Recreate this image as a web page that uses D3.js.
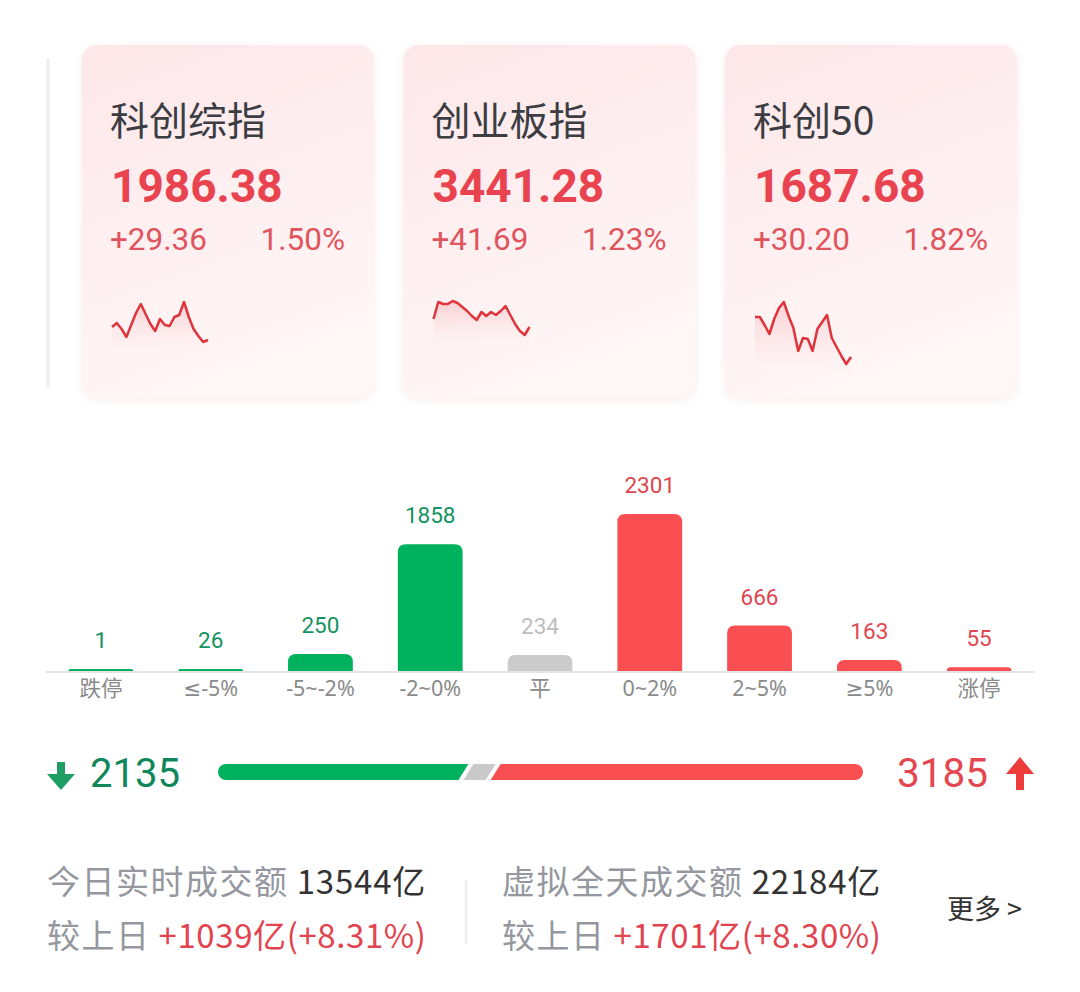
<!DOCTYPE html>
<html><head><meta charset="utf-8">
<script src="https://cdn.jsdelivr.net/npm/d3@7"></script>
<style>
html,body{margin:0;padding:0;background:#fff;}
svg{display:block;}
</style></head>
<body>
<script>
// ---------- DATA ----------
const indexNames = ["科创综指", "创业板指", "科创50"];
const indexValues = ["1986.38", "3441.28", "1687.68"];
const indexChanges = ["+29.36", "+41.69", "+30.20"];
const indexPercents = ["1.50%", "1.23%", "1.82%"];
// intraday sparkline levels (relative units above the session low)
const spark1 = [15,19,13,5,17,29,38,28,18,11,23,17,16,25,27,40,25,13,6,0,2];
const spark2 = [16,33,31,31,34,32,28,24,19,15,23,19,23,20,24,29,20,11,4,0,8];
const spark3 = [47,47,39,30,45,56,62,48,36,13,26,25,13,35,42,49,26,17,8,0,7];

const bucketLabels = ["跌停", "≤-5%", "-5~-2%", "-2~0%", "平", "0~2%", "2~5%", "≥5%", "涨停"];
const bucketCounts = [1, 26, 250, 1858, 234, 2301, 666, 163, 55];
const bucketSide = ["down","down","down","down","flat","up","up","up","up"];

const downTotal = 2135, flatTotal = 234, upTotal = 3185;

const turnoverLabels = ["今日实时成交额", "虚拟全天成交额"];
const turnoverValues = ["13544亿", "22184亿"];
const turnoverDiffs = ["+1039亿(+8.31%)", "+1701亿(+8.30%)"];
const compareLabel = "较上日";
const moreLabel = "更多 >";

// ---------- STYLE ----------
const W = 1080, H = 992;
const CJK = "'Noto Sans CJK SC','Noto Sans',sans-serif";
const NUM = "Roboto,'Noto Sans CJK SC',sans-serif";
const LAB = "'Noto Sans','DejaVu Sans','Noto Sans CJK SC',sans-serif";
const GREEN = "#00b15d", GREEN_T = "#13935f";
const RED = "#f94f52", RED_T = "#e0464f";
const GRAY = "#cbcbcb", GRAY_T = "#bdbdbd";

const svg = d3.select("body").append("svg").attr("width", W).attr("height", H);
const defs = svg.append("defs");

const cg = defs.append("linearGradient").attr("id","cardGrad").attr("x1",0).attr("y1",0).attr("x2",0.3).attr("y2",1);
cg.append("stop").attr("offset","0%").attr("stop-color","#fde7e9");
cg.append("stop").attr("offset","100%").attr("stop-color","#fff6f6");
const ag = defs.append("linearGradient").attr("id","areaGrad").attr("x1",0).attr("y1",0).attr("x2",0).attr("y2",1);
ag.append("stop").attr("offset","0%").attr("stop-color","#f3b3b8").attr("stop-opacity",0.55);
ag.append("stop").attr("offset","100%").attr("stop-color","#fbe0e2").attr("stop-opacity",0);
const sh = defs.append("filter").attr("id","shadow").attr("x","-10%").attr("y","-10%").attr("width","120%").attr("height","120%");
sh.append("feDropShadow").attr("dx",0).attr("dy",2).attr("stdDeviation",4).attr("flood-color","#e8c8ca").attr("flood-opacity",0.35);

// left partial card edge
svg.append("line").attr("x1",48).attr("x2",48).attr("y1",58).attr("y2",388)
  .attr("stroke","#f1eced").attr("stroke-width",3);

// ---------- INDEX CARDS ----------
const sparks = [spark1, spark2, spark3];
const sparkBox = [[302, 342], [301, 335], [302, 364]];
indexNames.forEach((name, i) => {
  const x0 = 82 + i * 321.5;
  const g = svg.append("g").attr("transform", `translate(${x0},0)`);
  g.append("rect").attr("x",0).attr("y",45).attr("width",292).attr("height",353).attr("rx",15)
    .attr("fill","url(#cardGrad)").attr("filter","url(#shadow)");
  g.append("text").attr("x",28).attr("y",135).text(name)
    .attr("font-family",CJK).attr("font-size",39).attr("fill","#3b3d43");
  g.append("text").attr("x",29).attr("y",202).text(indexValues[i])
    .attr("font-family",NUM).attr("font-weight",700).attr("font-size",46).attr("fill","#e8434f");
  g.append("text").attr("x",28).attr("y",250).text(indexChanges[i])
    .attr("font-family",NUM).attr("font-size",31.5).attr("fill","#e0545e");
  g.append("text").attr("x",263).attr("y",250).attr("text-anchor","end").text(indexPercents[i])
    .attr("font-family",NUM).attr("font-size",31.5).attr("fill","#e0545e");
  const data = sparks[i];
  const sx = d3.scaleLinear().domain([0, data.length - 1]).range([30, 126]);
  const sy = d3.scaleLinear().domain([0, d3.max(data)]).range([sparkBox[i][1], sparkBox[i][0]]);
  const area = d3.area().x((d,j)=>sx(j)).y0(sparkBox[i][1] + 12).y1(d=>sy(d));
  g.append("path").datum(data).attr("d", area).attr("fill","url(#areaGrad)");
  const line = d3.line().x((d,j)=>sx(j)).y(d=>sy(d));
  g.append("path").datum(data).attr("d", line).attr("fill","none")
    .attr("stroke","#e0343c").attr("stroke-width",2.5).attr("stroke-linejoin","round");
});

// ---------- DISTRIBUTION BARS ----------
const x = d3.scaleBand().domain(bucketLabels).range([46, 1034]).paddingInner(0.41).paddingOuter(0.205);
const y = d3.scaleLinear().domain([0, d3.max(bucketCounts)]).range([671, 514]);
const colorOf = s => s === "down" ? GREEN : s === "up" ? RED : GRAY;
const tColorOf = s => s === "down" ? GREEN_T : s === "up" ? RED_T : GRAY_T;

function topRounded(x0, y0, w, h, r) {
  r = Math.min(r, h, w / 2);
  const p = d3.path();
  p.moveTo(x0, y0 + h);
  p.lineTo(x0, y0 + r);
  p.quadraticCurveTo(x0, y0, x0 + r, y0);
  p.lineTo(x0 + w - r, y0);
  p.quadraticCurveTo(x0 + w, y0, x0 + w, y0 + r);
  p.lineTo(x0 + w, y0 + h);
  p.closePath();
  return p.toString();
}

const barsG = svg.append("g");
bucketLabels.forEach((lab, i) => {
  const v = bucketCounts[i];
  const top = Math.min(y(v), y(0) - 2);
  const h = y(0) - top;
  barsG.append("path").attr("d", topRounded(x(lab), top, x.bandwidth(), h, 8))
    .attr("fill", colorOf(bucketSide[i]));
  barsG.append("text").attr("x", x(lab) + x.bandwidth()/2).attr("y", top - 21)
    .attr("text-anchor","middle").text(v)
    .attr("font-family",NUM).attr("font-size",22.5).attr("fill", tColorOf(bucketSide[i]));
});
barsG.append("line").attr("x1",46).attr("x2",1035).attr("y1",672).attr("y2",672)
  .attr("stroke","#e4e4e4").attr("stroke-width",2);
const xAxis = d3.axisBottom(x).tickSize(0).tickPadding(0);
const axG = svg.append("g").attr("transform","translate(0,672)").call(xAxis);
axG.select(".domain").remove();
axG.selectAll("text").attr("y",24).attr("dy",0)
  .attr("font-family",LAB).attr("font-size",21.5).attr("fill","#8a8a8a");

// ---------- UP / DOWN RATIO BAR ----------
const total = downTotal + flatTotal + upTotal;
const rx = d3.scaleLinear().domain([0, total]).range([218, 863]);
const by0 = 764, by1 = 780, slant = 5, gap = 2.5;
const ratio = svg.append("g");
{
  const a = rx(0), b = rx(downTotal);
  const p = d3.path();
  p.moveTo(a + 8, by0); p.lineTo(b + slant - gap, by0); p.lineTo(b - slant - gap, by1); p.lineTo(a + 8, by1);
  p.arc(a + 8, (by0+by1)/2, 8, Math.PI/2, 3*Math.PI/2); p.closePath();
  ratio.append("path").attr("d", p.toString()).attr("fill", GREEN);
}
{
  const a = rx(downTotal), b = rx(downTotal + flatTotal);
  const p = d3.path();
  p.moveTo(a + slant + gap, by0); p.lineTo(b + slant - gap, by0); p.lineTo(b - slant - gap, by1); p.lineTo(a - slant + gap, by1); p.closePath();
  ratio.append("path").attr("d", p.toString()).attr("fill", "#c9c9c9");
}
{
  const a = rx(downTotal + flatTotal), b = rx(total);
  const p = d3.path();
  p.moveTo(a + slant + gap, by0); p.lineTo(b - 8, by0);
  p.arc(b - 8, (by0+by1)/2, 8, -Math.PI/2, Math.PI/2);
  p.lineTo(a - slant + gap, by1); p.closePath();
  ratio.append("path").attr("d", p.toString()).attr("fill", RED);
}
ratio.append("path").attr("d","M57,762 L65,762 L65,774 L75,774 L61,790 L47,774 L57,774 Z").attr("fill","#1f9e63");
ratio.append("path").attr("d","M1016,790 L1024,790 L1024,774 L1034,774 L1020,757 L1006,774 L1016,774 Z").attr("fill","#ee3b3b");
ratio.append("text").attr("x",90).attr("y",787).text(downTotal)
  .attr("font-family",NUM).attr("font-size",40).attr("textLength",90).attr("lengthAdjust","spacingAndGlyphs").attr("fill","#10875a");
ratio.append("text").attr("x",897).attr("y",787).text(upTotal)
  .attr("font-family",NUM).attr("font-size",40).attr("textLength",91).attr("lengthAdjust","spacingAndGlyphs").attr("fill","#e4474f");

// ---------- TURNOVER ----------
const colX = [47, 502];
turnoverLabels.forEach((lab, i) => {
  const t1 = svg.append("text").attr("x", colX[i]).attr("y", 894).attr("font-family",CJK).attr("font-size",33);
  t1.append("tspan").text(lab).attr("fill","#94979e").attr("letter-spacing",1.5);
  t1.append("tspan").text(" " + turnoverValues[i]).attr("fill","#333").attr("letter-spacing",0.8);
  const t2 = svg.append("text").attr("x", colX[i]).attr("y", 948).attr("font-family",CJK).attr("font-size",33);
  t2.append("tspan").text(compareLabel).attr("fill","#94979e").attr("letter-spacing",1.5);
  t2.append("tspan").text(" " + turnoverDiffs[i]).attr("fill","#e2444f").attr("letter-spacing",0.6);
});
svg.append("line").attr("x1",466).attr("x2",466).attr("y1",880).attr("y2",944).attr("stroke","#ececec").attr("stroke-width",2);
svg.append("text").attr("x",947).attr("y",919).text(moreLabel)
  .attr("font-family",CJK).attr("font-size",27).attr("fill","#333");
</script>
</body></html>
